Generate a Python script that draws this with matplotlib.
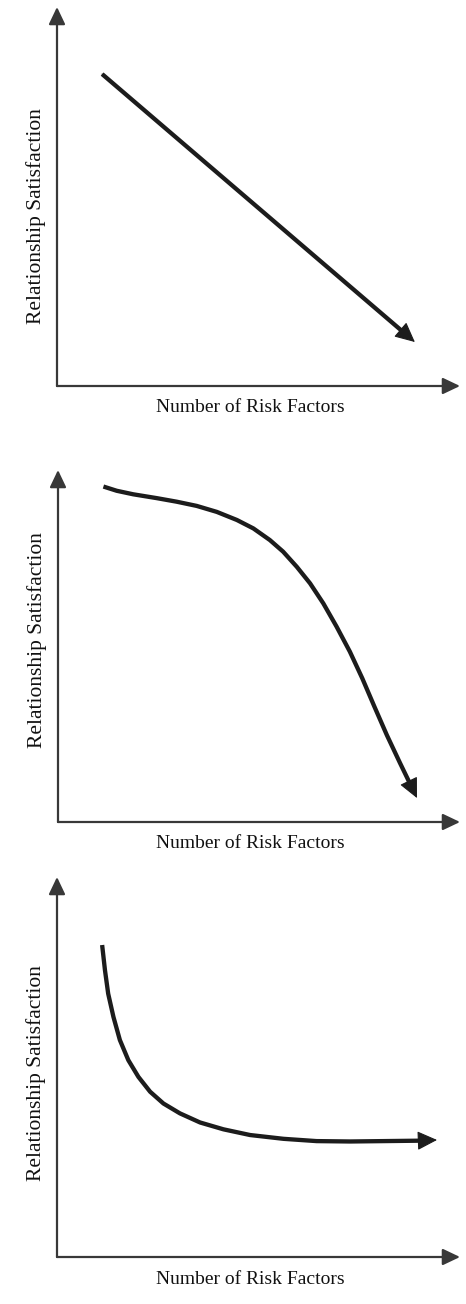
import matplotlib.pyplot as plt
import numpy as np

# risk factors (x) vs relationship satisfaction (y), 0-10 scale
x_linear = [1.12, 8.88]
y_linear = [8.23, 1.16]

x_accel = [1.13, 1.46, 1.87, 2.46, 2.95, 3.45, 3.95, 4.45, 4.86, 5.27, 5.60,
           5.94, 6.27, 6.60, 6.93, 7.26, 7.57, 7.87, 8.18, 8.51, 8.93]
y_accel = [9.53, 9.41, 9.31, 9.20, 9.10, 8.98, 8.81, 8.58, 8.34, 8.01, 7.68,
           7.25, 6.78, 6.21, 5.55, 4.84, 4.08, 3.28, 2.47, 1.67, 0.68]

x_decel = [1.12, 1.19, 1.27, 1.40, 1.56, 1.77, 2.02, 2.31, 2.64, 3.05, 3.55,
           4.13, 4.79, 5.62, 6.44, 7.27, 8.10, 8.93, 9.43]
y_decel = [8.21, 7.55, 6.93, 6.32, 5.71, 5.18, 4.74, 4.35, 4.04, 3.78, 3.54,
           3.36, 3.21, 3.11, 3.05, 3.04, 3.05, 3.06, 3.08]

xlabel = 'Number of Risk Factors'
ylabel = 'Relationship Satisfaction'

W, H = 466, 1304
# panel origin (px from top-left) and axis tips
panels = [
    dict(x0=57, y0=386, x1=460, y1=7, xs=x_linear, ys=y_linear, ylab_y=216),
    dict(x0=58, y0=822, x1=460, y1=470, xs=x_accel, ys=y_accel, ylab_y=640),
    dict(x0=57, y0=1257, x1=460, y1=877, xs=x_decel, ys=y_decel, ylab_y=1073),
]

plt.rcParams['font.family'] = ['Liberation Serif', 'DejaVu Serif']
fig = plt.figure(figsize=(W / 100, H / 100), dpi=100)

axis_col = '#383838'
curve_col = '#1c1c1c'

for p in panels:
    w = p['x1'] - p['x0']
    h = p['y0'] - p['y1']
    ax = fig.add_axes([p['x0'] / W, (H - p['y0']) / H, w / W, h / H])
    ax.set_xlim(0, 10)
    ax.set_ylim(0, 10)
    ax.axis('off')

    # axes drawn as arrows
    axis_arrow = dict(arrowstyle='-|>,head_length=1.05,head_width=0.5', lw=1.6,
                      color=axis_col, shrinkA=0, shrinkB=0, mutation_scale=10)
    ax.annotate('', xy=(1, 0), xytext=(0, 0), xycoords='axes fraction',
                arrowprops=axis_arrow, annotation_clip=False)
    ax.annotate('', xy=(0, 1), xytext=(0, 0), xycoords='axes fraction',
                arrowprops=axis_arrow, annotation_clip=False)

    # curve: thick line stopping a little short of the tip, then a solid head
    xs, ys = p['xs'], p['ys']
    tip = ax.transData.transform((xs[-1], ys[-1]))
    prev = ax.transData.transform((xs[-2], ys[-2]))
    d = (tip - prev) / np.hypot(*(tip - prev))
    ex, ey = ax.transData.inverted().transform(tip - 9 * d)
    ax.plot(list(xs[:-1]) + [ex], list(ys[:-1]) + [ey], color=curve_col, lw=3.1,
            solid_capstyle='butt', solid_joinstyle='round')
    ax.annotate('', xy=(xs[-1], ys[-1]), xytext=(xs[-2], ys[-2]),
                arrowprops=dict(arrowstyle='-|>,head_length=1.25,head_width=0.6',
                                lw=0.8, color=curve_col, shrinkA=0, shrinkB=0,
                                mutation_scale=10),
                annotation_clip=False)

    ax.text((250 - p['x0']) / w, -22 / h, xlabel, transform=ax.transAxes,
            ha='center', va='center', fontsize=14, color='#111111')
    ax.text(-21 / w, (p['y0'] - p['ylab_y']) / h, ylabel, transform=ax.transAxes,
            rotation=90, ha='center', va='center', fontsize=15.5, color='#111111')

fig.savefig('out.png', dpi=100)
